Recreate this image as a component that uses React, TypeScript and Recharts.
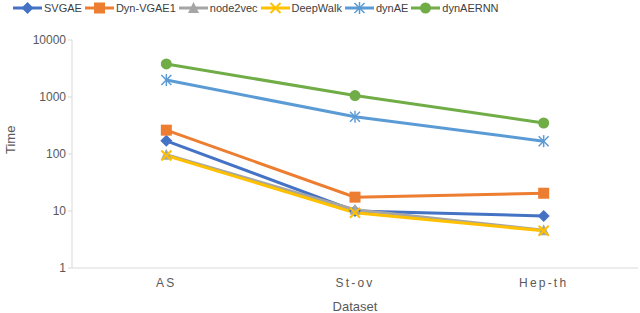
import React from "react";
import { LineChart, Line, XAxis, YAxis } from "recharts";

const categories = ["AS", "St-ov", "Hep-th"];
const svgae = [170, 10, 8.2];
const dynVgae1 = [262, 17.5, 20.5];
const node2vec = [97, 10.5, 4.6];
const deepWalk = [94, 9.3, 4.5];
const dynAE = [1980, 450, 168];
const dynAERNN = [3800, 1060, 350];
const yTicks = [1, 10, 100, 1000, 10000];

const seriesDefs = [
  { key: "SVGAE", values: svgae, color: "#4472C4", marker: "diamond" },
  { key: "Dyn-VGAE1", values: dynVgae1, color: "#ED7D31", marker: "square" },
  { key: "node2vec", values: node2vec, color: "#A5A5A5", marker: "triangle" },
  { key: "DeepWalk", values: deepWalk, color: "#FFC000", marker: "x" },
  { key: "dynAE", values: dynAE, color: "#5B9BD5", marker: "star" },
  { key: "dynAERNN", values: dynAERNN, color: "#70AD47", marker: "circle" },
];

const data = categories.map((c, i) => {
  const row: any = { name: c };
  seriesDefs.forEach((s) => (row[s.key] = s.values[i]));
  return row;
});

const FONT = "'Liberation Sans', Arial, sans-serif";

function Marker({ type, cx, cy, color }: any) {
  switch (type) {
    case "diamond":
      return <polygon points={`${cx},${cy - 6} ${cx + 6},${cy} ${cx},${cy + 6} ${cx - 6},${cy}`} fill={color} />;
    case "square":
      return <rect x={cx - 5.5} y={cy - 5.5} width={11} height={11} fill={color} />;
    case "triangle":
      return <polygon points={`${cx},${cy - 6} ${cx + 5.5},${cy + 5} ${cx - 5.5},${cy + 5}`} fill={color} />;
    case "x":
      return (
        <g stroke={color} strokeWidth={2}>
          <line x1={cx - 5} y1={cy - 5} x2={cx + 5} y2={cy + 5} />
          <line x1={cx - 5} y1={cy + 5} x2={cx + 5} y2={cy - 5} />
        </g>
      );
    case "star":
      return (
        <g stroke={color} strokeWidth={1.5}>
          <line x1={cx - 5} y1={cy - 5} x2={cx + 5} y2={cy + 5} />
          <line x1={cx - 5} y1={cy + 5} x2={cx + 5} y2={cy - 5} />
          <line x1={cx} y1={cy - 6} x2={cx} y2={cy + 6} />
        </g>
      );
    default:
      return <circle cx={cx} cy={cy} r={5.5} fill={color} />;
  }
}

function makeDot(type: string, color: string) {
  return (props: any) => {
    const { cx, cy, index } = props;
    if (cx == null || cy == null) return <g key={index} />;
    return (
      <g key={index}>
        <Marker type={type} cx={cx} cy={cy} color={color} />
      </g>
    );
  };
}

function LegendBlock() {
  return (
    <div
      style={{
        position: "absolute",
        top: 1,
        left: 13,
        display: "flex",
        alignItems: "center",
        fontFamily: FONT,
        fontSize: 11,
        color: "#404040",
        whiteSpace: "nowrap",
      }}
    >
      {seriesDefs.map((s) => (
        <div key={s.key} style={{ display: "flex", alignItems: "center", marginRight: 3 }}>
          <svg width={29} height={14} style={{ marginRight: 2 }}>
            <line x1={0} y1={7} x2={29} y2={7} stroke={s.color} strokeWidth={3} />
            <Marker type={s.marker} cx={14.5} cy={7} color={s.color} />
          </svg>
          <span>{s.key}</span>
        </div>
      ))}
    </div>
  );
}

export default function App() {
  return (
    <div style={{ position: "absolute", left: 0, top: 0, width: 640, height: 313, background: "#fff" }}>
      <LineChart width={640} height={313} data={data} margin={{ top: 40, right: 2, bottom: 0, left: 0 }}>
        <XAxis
          dataKey="name"
          scale="band"
          height={45}
          axisLine={{ stroke: "#D9D9D9" }}
          tickLine={false}
          tick={{ fill: "#595959", fontSize: 12, fontFamily: FONT, letterSpacing: 2.2 } as any}
          tickMargin={4}
          label={{ value: "Dataset", position: "insideBottom", offset: 2, fill: "#595959", fontSize: 13, fontFamily: FONT }}
        />
        <YAxis
          scale="log"
          domain={[1, 10000]}
          ticks={yTicks}
          allowDataOverflow
          width={72}
          axisLine={{ stroke: "#D9D9D9" }}
          tickLine={{ stroke: "#D9D9D9" }}
          tickSize={4}
          tick={{ fill: "#595959", fontSize: 12, fontFamily: FONT }}
          label={{ value: "Time", angle: -90, position: "insideLeft", offset: 10, fill: "#595959", fontSize: 13, fontFamily: FONT }}
        />
        {seriesDefs.map((s) => (
          <Line
            key={s.key}
            dataKey={s.key}
            stroke={s.color}
            strokeWidth={3}
            dot={makeDot(s.marker, s.color)}
            activeDot={false}
            isAnimationActive={false}
          />
        ))}
      </LineChart>
      <LegendBlock />
    </div>
  );
}
